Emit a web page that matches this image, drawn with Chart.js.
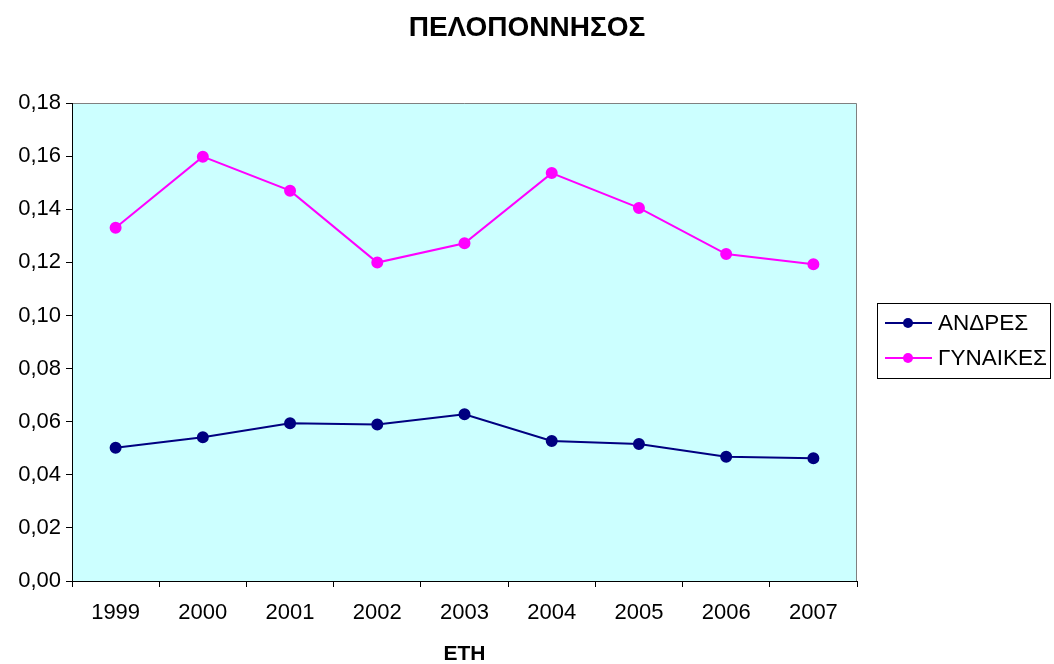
<!DOCTYPE html>
<html>
<head>
<meta charset="utf-8">
<script src="https://cdn.jsdelivr.net/npm/chart.js@4/dist/chart.umd.min.js"></script>
<style>
    html, body { margin: 0; padding: 0; background: #fff; }
    #wrap { width: 1054px; height: 664px; position: relative; }
</style>
</head>
<body>
<div id="wrap"><canvas id="lineChart"></canvas></div>
<script>
    const years = ['1999', '2000', '2001', '2002', '2003', '2004', '2005', '2006', '2007'];
    const andres = [0.0502, 0.0541, 0.0594, 0.0589, 0.0628, 0.0527, 0.0516, 0.0468, 0.0462];
    const gynaikes = [0.1330, 0.1598, 0.1470, 0.1199, 0.1272, 0.1536, 0.1405, 0.1231, 0.1193];
    const chartTitle = 'ΠΕΛΟΠΟΝΝΗΣΟΣ';
    const xTitle = 'ΕΤΗ';

    const font = 'Arial, "Liberation Sans", sans-serif';

    // plot background + grey top/right frame
    const plotArea = {
        id: 'plotArea',
        beforeDraw: function (chart) {
            const a = chart.chartArea;
            const ctx = chart.ctx;
            ctx.save();
            ctx.fillStyle = '#ccffff';
            ctx.fillRect(a.left, a.top, a.right - a.left, a.bottom - a.top);
            ctx.strokeStyle = '#808080';
            ctx.lineWidth = 1;
            ctx.beginPath();
            ctx.moveTo(a.left, a.top + 0.5);
            ctx.lineTo(a.right - 0.5, a.top + 0.5);
            ctx.lineTo(a.right - 0.5, a.bottom);
            ctx.stroke();
            ctx.restore();
        }
    };

    // title and boxed legend like the original sheet
    const decorations = {
        id: 'decorations',
        afterDraw: function (chart) {
            const ctx = chart.ctx;
            ctx.save();
            ctx.fillStyle = '#000';
            ctx.font = 'bold 28px ' + font;
            ctx.textAlign = 'center';
            ctx.textBaseline = 'middle';
            ctx.fillText(chartTitle, 527, 28);

            const bx = 877, by = 303, bw = 173, bh = 75;
            ctx.strokeStyle = '#000';
            ctx.lineWidth = 1;
            ctx.strokeRect(bx + 0.5, by + 0.5, bw, bh);

            ctx.font = '22.5px ' + font;
            ctx.textAlign = 'left';
            chart.data.datasets.forEach(function (ds, i) {
                const y = by + 20 + i * 35;
                ctx.strokeStyle = ds.borderColor;
                ctx.lineWidth = 2;
                ctx.beginPath();
                ctx.moveTo(885, y);
                ctx.lineTo(932, y);
                ctx.stroke();
                ctx.fillStyle = ds.borderColor;
                ctx.beginPath();
                ctx.arc(908, y, 5, 0, Math.PI * 2);
                ctx.fill();
                ctx.fillStyle = '#000';
                ctx.fillText(ds.label, 938, y + 1);
            });
            ctx.restore();
        }
    };

    new Chart(document.getElementById('lineChart'), {
        type: 'line',
        data: {
            labels: years,
            datasets: [{
                label: 'ΑΝΔΡΕΣ',
                data: andres,
                borderColor: '#000080',
                backgroundColor: '#000080',
                borderWidth: 2,
                pointRadius: 5,
                pointHoverRadius: 5,
                tension: 0
            }, {
                label: 'ΓΥΝΑΙΚΕΣ',
                data: gynaikes,
                borderColor: '#ff00ff',
                backgroundColor: '#ff00ff',
                borderWidth: 2,
                pointRadius: 5,
                pointHoverRadius: 5,
                tension: 0
            }]
        },
        options: {
            responsive: true,
            maintainAspectRatio: false,
            animation: false,
            layout: {
                padding: { top: 103, right: 197, left: 0, bottom: 0 }
            },
            plugins: {
                legend: { display: false },
                title: { display: false },
                tooltip: { enabled: false }
            },
            scales: {
                x: {
                    offset: true,
                    afterFit: function (scale) { scale.height = 83; },
                    grid: {
                        offset: true,
                        drawOnChartArea: false,
                        drawTicks: true,
                        tickLength: 6,
                        color: '#000'
                    },
                    border: { color: '#000', width: 1 },
                    ticks: {
                        color: '#000',
                        padding: 13,
                        font: { family: font, size: 22 }
                    },
                    title: {
                        display: true,
                        text: xTitle,
                        color: '#000',
                        padding: { top: 0, bottom: -3 },
                        font: { family: font, size: 21, weight: 'bold' }
                    }
                },
                y: {
                    min: 0,
                    max: 0.18,
                    afterFit: function (scale) { scale.width = 72; },
                    grid: {
                        drawOnChartArea: false,
                        drawTicks: true,
                        tickLength: 6,
                        color: '#000'
                    },
                    border: { color: '#000', width: 1 },
                    ticks: {
                        stepSize: 0.02,
                        color: '#000',
                        padding: 5,
                        font: { family: font, size: 22 },
                        callback: function (v) {
                            return Number(v).toFixed(2).replace('.', ',');
                        }
                    }
                }
            }
        },
        plugins: [plotArea, decorations]
    });
</script>
</body>
</html>
